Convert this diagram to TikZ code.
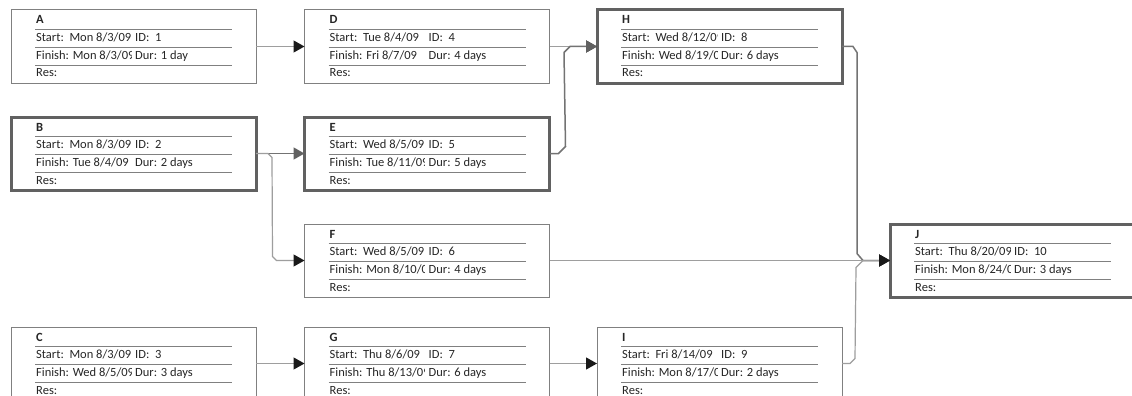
\documentclass[tikz,border=0pt]{standalone}
\usepackage{fontspec}
\setmainfont{Carlito}
\usetikzlibrary{arrows.meta}

\newcommand{\pertfont}{\fontsize{12.5}{15}\selectfont}

% one network-diagram box: name, position, style, start, id, finish, duration
\newcommand{\pertbox}[7]{%
  \node[#3] (#1) at (#2) {};
  \foreach \dy in {19,37,55}
    \draw[sepline] ([shift={(24,\dy)}]#1.north west) -- ([shift={(221,\dy)}]#1.north west);
  \node[fieldname] (#1-name) at ([shift={(25,14)}]#1.north west) {#1};
  \begin{scope}
    \clip ([shift={(24,20)}]#1.north west) rectangle ([shift={(120,56)}]#1.north west);
    \node[field] (#1-start) at ([shift={(25,31.5)}]#1.north west) {Start:~~#4};
    \node[field] (#1-fin) at ([shift={(25,49.5)}]#1.north west) {Finish: #6};
  \end{scope}
  \node[field] (#1-id) at ([shift={(124,31.5)}]#1.north west) {ID:~~#5};
  \node[field] (#1-dur) at ([shift={(124,49.5)}]#1.north west) {Dur: #7};
  \node[field] (#1-res) at ([shift={(25,67)}]#1.north west) {Res:};
}

\begin{document}
\begin{tikzpicture}[
    x=1pt, y=-1pt,
    % --- box styles ---
    taskbox/.style={
        draw=black!50, line width=1pt, fill=white,
        minimum width=245pt, minimum height=73pt,
        inner sep=0pt, outer sep=0pt},
    critbox/.style={taskbox, draw=black!62, line width=3pt},
    sepline/.style={draw=black!50, line width=0.9pt},
    field/.style={anchor=base west, inner sep=0pt, text=black!85, font=\pertfont},
    fieldname/.style={field, font=\pertfont\bfseries},
    % --- connector styles ---
    link/.style={draw=black!38, line width=1.2pt,
        -{Triangle[length=11pt, width=12pt, color=black!90]}},
    critlink/.style={draw=black!55, line width=1.5pt,
        -{Triangle[length=11pt, width=12pt, color=black!62]}},
]

\clip (0,0) rectangle (1132,396);
\fill[white] (0,0) rectangle (1132,396);

% ===== COLUMN 1 =====
\pertbox{A}{133.5,46.5}{taskbox}{Mon 8/3/09}{1}{Mon 8/3/09}{1 day}
\pertbox{B}{133.5,153.5}{critbox}{Mon 8/3/09}{2}{Tue 8/4/09}{2 days}
\pertbox{C}{133.5,363.5}{taskbox}{Mon 8/3/09}{3}{Wed 8/5/09}{3 days}

% ===== COLUMN 2 =====
\pertbox{D}{427,46.5}{taskbox}{Tue 8/4/09}{4}{Fri 8/7/09}{4 days}
\pertbox{E}{427,153.5}{critbox}{Wed 8/5/09}{5}{Tue 8/11/09}{5 days}
\pertbox{F}{427,260.5}{taskbox}{Wed 8/5/09}{6}{Mon 8/10/09}{4 days}
\pertbox{G}{427,363.5}{taskbox}{Thu 8/6/09}{7}{Thu 8/13/09}{6 days}

% ===== COLUMN 3 =====
\pertbox{H}{719.5,46.5}{critbox}{Wed 8/12/09}{8}{Wed 8/19/09}{6 days}
\pertbox{I}{719.5,363.5}{taskbox}{Fri 8/14/09}{9}{Mon 8/17/09}{2 days}

% ===== COLUMN 4 =====
\pertbox{J}{1012.5,260.5}{critbox}{Thu 8/20/09}{10}{Mon 8/24/09}{3 days}

% ===== LINKS =====
\draw[link] (A.east) -- (D.west);
\draw[critlink] (B.east) -- (E.west);
\draw[link] (B.east) -- ++(12,0) -- ++(4,4)
    -- ([shift={(-32,-4)}]F.west) -- ([shift={(-28,0)}]F.west) -- (F.west);
\draw[link] (C.east) -- (G.west);
\draw[link] (D.east) -- (H.west);
\draw[critlink] (E.east) -- ++(9,0) -- ++(7,-7)
    -- ([shift={(-33,6)}]H.west) -- ([shift={(-27,0)}]H.west) -- (H.west);
\draw[link] (G.east) -- (I.west);
\draw[critlink] (H.east) -- ++(11,0) -- ++(4,6)
    -- ([shift={(-33,-7)}]J.west) -- ([shift={(-27,0)}]J.west) -- (J.west);
\draw[link] (I.east) -- ++(8,0) -- ++(5,-5)
    -- ([shift={(-34,7)}]J.west) -- ([shift={(-27,0)}]J.west) -- (J.west);
\draw[link] (F.east) -- (J.west);

\end{tikzpicture}
\end{document}
